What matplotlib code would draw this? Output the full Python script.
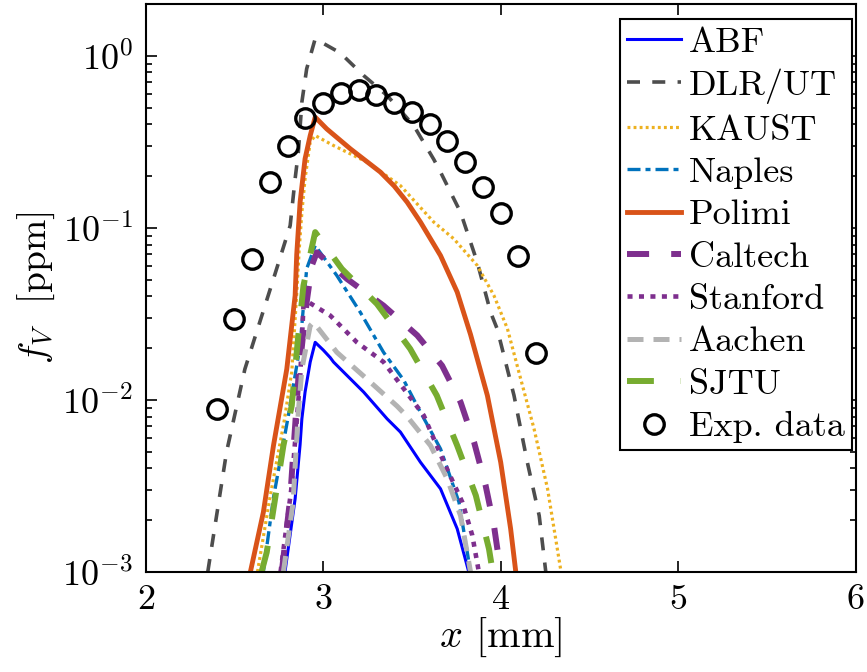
import numpy as np
import matplotlib
matplotlib.use("Agg")
import matplotlib.pyplot as plt

plt.rcParams['font.family'] = 'serif'
plt.rcParams['font.serif'] = ['cmr10']
plt.rcParams['mathtext.fontset'] = 'cm'
plt.rcParams['axes.formatter.use_mathtext'] = True

# --- data ---
abf_x = [2.785, 2.842, 2.87, 2.88, 2.898, 2.927, 2.955, 3.0, 3.04, 3.058, 3.228, 3.36, 3.435,
         3.548, 3.661, 3.755, 3.82]
abf_y = [0.001, 0.00266, 0.0055, 0.00776, 0.0111, 0.0166, 0.0216, 0.0195, 0.0176, 0.0166, 0.0111,
         0.00776, 0.0065, 0.00434, 0.00304, 0.00178, 0.001]

dlr_x = [2.35, 2.456, 2.559, 2.72, 2.814, 2.842, 2.86, 2.88, 2.907, 2.955, 3.096, 3.228, 3.36,
         3.51, 3.623, 3.661, 3.774, 3.868, 3.943, 3.98, 4.075, 4.15, 4.217, 4.254]
dlr_y = [0.001, 0.005, 0.0151, 0.0505, 0.103, 0.193, 0.275, 0.538, 0.84, 1.256, 1.04, 0.768, 0.588,
         0.393, 0.25, 0.211, 0.123, 0.0631, 0.0323, 0.0259, 0.0106, 0.00434, 0.00212, 0.001]

kaust_x = [2.63, 2.70, 2.78, 2.823, 2.85, 2.865, 2.88, 2.898, 2.927, 2.955, 3.058, 3.247, 3.435,
           3.623, 3.736, 3.868, 3.962, 4.038, 4.113, 4.188, 4.264, 4.34]
kaust_y = [0.001, 0.0027, 0.0075, 0.0145, 0.04, 0.075, 0.123, 0.193, 0.315, 0.344, 0.301, 0.241,
           0.176, 0.108, 0.0863, 0.0604, 0.0404, 0.0259, 0.0132, 0.00678, 0.00304, 0.001]

naples_x = [2.663, 2.72, 2.804, 2.87, 2.907, 2.955, 3.077, 3.209, 3.34, 3.454, 3.548, 3.661,
            3.765, 3.83]
naples_y = [0.001, 0.0027, 0.0081, 0.0207, 0.0578, 0.0789, 0.0528, 0.0323, 0.0189, 0.013, 0.00848,
            0.00519, 0.00254, 0.001]

polimi_x = [2.59, 2.663, 2.72, 2.795, 2.842, 2.851, 2.87, 2.898, 2.927, 2.955, 3.02, 3.153, 3.322,
            3.40, 3.473, 3.548, 3.661, 3.755, 3.83, 3.925, 4.0, 4.056, 4.085]
polimi_y = [0.001, 0.00222, 0.00542, 0.0151, 0.0404, 0.07, 0.141, 0.252, 0.344, 0.44, 0.376, 0.288,
            0.211, 0.175, 0.141, 0.108, 0.069, 0.0423, 0.024, 0.0106, 0.00434, 0.00178, 0.001]

caltech_x = [2.767, 2.814, 2.86, 2.907, 2.936, 2.964, 3.134, 3.34, 3.53, 3.67, 3.774, 3.85, 3.915,
             3.962, 4.0]
caltech_y = [0.001, 0.00266, 0.0132, 0.037, 0.0604, 0.072, 0.0505, 0.0353, 0.0237, 0.0158, 0.0097,
             0.00568, 0.00318, 0.00186, 0.001]

stanford_x = [2.76, 2.82, 2.87, 2.889, 2.917, 3.04, 3.19, 3.34, 3.454, 3.567, 3.68, 3.784, 3.84, 3.877]
stanford_y = [0.001, 0.003, 0.0132, 0.0353, 0.037, 0.0309, 0.0216, 0.0166, 0.0116, 0.0081, 0.00434,
              0.00254, 0.00163, 0.001]

aachen_x = [2.776, 2.83, 2.86, 2.88, 2.927, 2.945, 3.077, 3.247, 3.416, 3.473, 3.605, 3.699, 3.774, 3.83]
aachen_y = [0.001, 0.0025, 0.00848, 0.0151, 0.027, 0.0283, 0.0189, 0.0132, 0.0092, 0.008, 0.00542,
            0.00347, 0.00212, 0.001]

sjtu_x = [2.653, 2.682, 2.776, 2.823, 2.86, 2.889, 2.955, 3.105, 3.303, 3.49, 3.64, 3.755, 3.86,
          3.934, 3.955]
sjtu_y = [0.001, 0.0013, 0.00542, 0.00927, 0.0237, 0.0462, 0.0944, 0.0578, 0.0361, 0.0198, 0.0106,
          0.00542, 0.00278, 0.00136, 0.001]

exp_x = [2.4, 2.5, 2.6, 2.7, 2.8, 2.9, 3.0, 3.1, 3.2, 3.3, 3.4, 3.5, 3.6, 3.7, 3.8, 3.9, 4.0, 4.1, 4.2]
exp_y = [0.0089, 0.0296, 0.066, 0.185, 0.30, 0.436, 0.535, 0.61, 0.63, 0.595, 0.53, 0.472,
         0.40, 0.32, 0.241, 0.173, 0.122, 0.069, 0.0188]

fig = plt.figure(figsize=(8.67, 6.72), dpi=100)
ax = fig.add_axes([0.168, 0.149, 0.819, 0.845])

ax.plot(abf_x, abf_y, color='#0000FF', lw=2.2, label='ABF')
ax.plot(dlr_x, dlr_y, color='#4D4D4D', lw=2.6, dashes=(3.6, 3.4), label='DLR/UT')
ax.plot(kaust_x, kaust_y, color='#EDB120', lw=2.3, dashes=(0.9, 1.0), label='KAUST')
ax.plot(naples_x, naples_y, color='#0072BD', lw=2.4, dashes=(3.9, 1.5, 1.5, 1.5), label='Naples')
ax.plot(polimi_x, polimi_y, color='#D95319', lw=3.5, label='Polimi')
ax.plot(caltech_x, caltech_y, color='#7E2F8E', lw=4.3, dashes=(3.7, 3.7), label='Caltech')
ax.plot(stanford_x, stanford_y, color='#7E2F8E', lw=3.3, dashes=(1.1, 1.4), label='Stanford')
ax.plot(aachen_x, aachen_y, color='#B3B3B3', lw=3.6, dashes=(3.2, 2), label='Aachen')
ax.plot(sjtu_x, sjtu_y, color='#77AC30', lw=4.3, dashes=(4.5, 4.5), label='SJTU')
ax.plot(exp_x, exp_y, 'o', mfc='none', mec='black', mew=2.4, ms=14, label='Exp. data')

ax.set_yscale('log')
ax.set_xlim(2, 6)
ax.set_ylim(1e-3, 2)
ax.set_xticks([2, 3, 4, 5, 6])
ax.tick_params(which='both', direction='in', top=True, right=True, labelsize=26, width=1.2)
ax.tick_params(which='major', length=8, pad=9)
ax.tick_params(which='minor', length=4)
for s in ax.spines.values():
    s.set_linewidth(1.5)

ax.set_xlabel(r'$x$ [mm]', fontsize=29, labelpad=0)
ax.set_ylabel(r'$f_V$  [ppm]', fontsize=27, labelpad=4)

leg = ax.legend(loc='upper right', bbox_to_anchor=(0.9944, 0.9736), borderaxespad=0,
                fontsize=26, handlelength=1.5, handletextpad=0.2,
                labelspacing=0.28, borderpad=0.2,
                fancybox=False, framealpha=1, edgecolor='black')
leg.get_frame().set_linewidth(1.5)

fig.savefig('out.png', dpi=100)
